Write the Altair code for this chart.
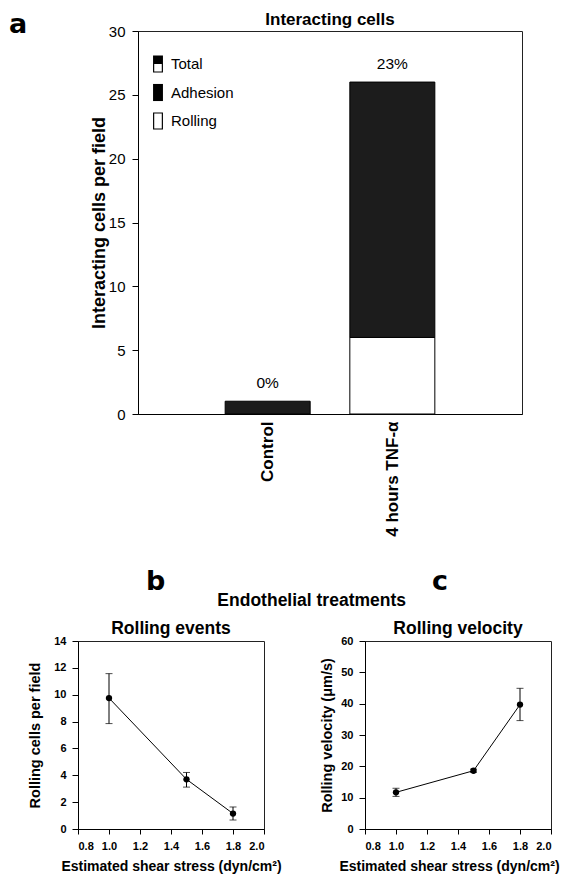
import altair as alt
import pandas as pd

FONT = "Liberation Sans"
LETTER_FONT = "DejaVu Sans"

# ---------------- data ----------------
# panel a
categories = ["Control", "4 hours TNF-\u03b1"]
cat_pos = [1, 2]
adhesion = [1, 20]
rolling = [0, 6]
pct_labels = ["0%", "23%"]
legend_items = ["Total", "Adhesion", "Rolling"]
a_y_ticks = [0, 5, 10, 15, 20, 25, 30]

# panels b and c
shear = [1.0, 1.5, 1.8]
roll_events = [9.75, 3.7, 1.15]
roll_events_lo = [7.85, 3.12, 0.67]
roll_events_hi = [11.57, 4.21, 1.64]
roll_vel = [11.7, 18.6, 39.7]
roll_vel_lo = [10.4, 18.1, 34.6]
roll_vel_hi = [13.0, 19.1, 44.9]
bc_x_ticks = [0.8, 1.0, 1.2, 1.4, 1.6, 1.8, 2.0]
b_y_ticks = [0, 2, 4, 6, 8, 10, 12, 14]
c_y_ticks = [0, 10, 20, 30, 40, 50, 60]

panel_letters = ["a", "b", "c"]
group_title = "Endothelial treatments"

# ---------------- panel a ----------------
rows = []
for p, c, ad, ro in zip(cat_pos, categories, adhesion, rolling):
    if ro > 0:
        rows.append({"pos": p, "cat": c, "seg": "Rolling", "y0": 0, "y1": ro})
    rows.append({"pos": p, "cat": c, "seg": "Adhesion", "y0": ro, "y1": ro + ad})
bar_df = pd.DataFrame(rows)
bar_df["kind"] = bar_df["seg"]
tot_df = pd.DataFrame({"pos": cat_pos,
                       "total": [a + r for a, r in zip(adhesion, rolling)],
                       "label": pct_labels})

label_expr = " ".join(f"datum.value == {p} ? '{c}' :" for p, c in zip(cat_pos, categories)) + " ''"

x_scale_a = alt.Scale(domain=[0, 3], nice=False, zero=False)
y_scale_a = alt.Scale(domain=[0, 30], nice=False)
x_axis_a = alt.Axis(values=cat_pos, labelExpr=label_expr, labelAngle=270,
                    ticks=False, grid=False, title=None, labelFontSize=17,
                    labelFontWeight="bold", labelPadding=7, labelColor="black",
                    domainColor="black", labelOverlap=False)
y_axis_a = alt.Axis(values=a_y_ticks, title="Interacting cells per field",
                    titleFontSize=18, titleFontWeight="bold", titlePadding=7,
                    minExtent=23, maxExtent=23,
                    labelFontSize=15, labelPadding=7, tickSize=6, grid=False,
                    domainColor="black", tickColor="black", labelColor="black",
                    titleColor="black", labelOverlap=False)

def xa(field):
    return alt.X(field, scale=x_scale_a, axis=x_axis_a)

def ya(field):
    return alt.Y(field, scale=y_scale_a, axis=y_axis_a)

# segments (legend comes from the shape layer below, so no legend here)
bars = alt.Chart(bar_df).mark_bar(size=85, stroke="black", strokeWidth=1).encode(
    x=xa("pos:Q"), y=ya("y0:Q"), y2="y1:Q",
    color=alt.Color("seg:N", scale=alt.Scale(domain=legend_items[1:],
                                             range=["#1c1c1c", "white"]),
                    legend=None))

# legend swatches: half-filled (Total), filled (Adhesion), open (Rolling)
paths = [
    "M-0.55,-0.95H0.55V0H-0.55Z M-0.55,0H0.55V0.95H-0.55Z M-0.42,0V0.82H0.42V0Z",
    "M-0.55,-0.95H0.55V0.95H-0.55Z",
    "M-0.55,-0.95H0.55V0.95H-0.55Z M-0.42,-0.82V0.82H0.42V-0.82Z",
]
legend_layer = alt.Chart(bar_df).mark_point(filled=True, color="black", opacity=0.001).encode(
    x=xa("pos:Q"), y=ya("y1:Q"),
    shape=alt.Shape("kind:N", scale=alt.Scale(domain=legend_items, range=paths),
                    legend=alt.Legend(title=None, orient="none", legendX=71, legendY=24,
                                      symbolSize=324, symbolStrokeWidth=0,
                                      symbolOpacity=1, symbolFillColor="black",
                                      labelFontSize=15, labelFont=FONT, labelColor="black",
                                      labelOffset=4, rowPadding=10.5, padding=0)))

pct = alt.Chart(tot_df).mark_text(dy=-13, fontSize=15.5, baseline="alphabetic",
                                  color="black").encode(
    x=xa("pos:Q"), y=ya("total:Q"), text="label:N")

letters_df = pd.DataFrame({"t": panel_letters})
letter_style = dict(align="left", baseline="alphabetic", fontSize=27,
                    fontWeight="bold", color="black", font=LETTER_FONT)
letter_b = alt.Chart(letters_df.iloc[[1]]).mark_text(**letter_style).encode(
    x=alt.value(8), y=alt.value(559), text="t:N")
letter_c = alt.Chart(letters_df.iloc[[2]]).mark_text(**letter_style).encode(
    x=alt.value(294), y=alt.value(559), text="t:N")
et = alt.Chart(pd.DataFrame({"t": [group_title]})).mark_text(
    align="center", baseline="alphabetic", fontSize=17.5, fontWeight="bold",
    color="black").encode(x=alt.value(173.7), y=alt.value(575), text="t:N")

top = alt.layer(bars, legend_layer, pct, letter_b, letter_c, et).properties(
    width=384, height=383,
    title=alt.Title("Interacting cells", fontSize=17, fontWeight="bold", offset=-5,
                    color="black"))

# spacer holding the panel letter "a" (sets the left offset of panel a)
spacer = alt.Chart(letters_df.iloc[[0]]).mark_text(**letter_style).encode(
    x=alt.value(-69), y=alt.value(2), text="t:N").properties(
    width=1, height=383, view=alt.ViewBackground(stroke="transparent"))

top_row = alt.hconcat(spacer, top, spacing=9)

# ---------------- panels b, c ----------------
def panel(yv, lo, hi, yticks, ytitle, ttl, title_x, ytp):
    df = pd.DataFrame({"x": shear, "y": yv, "lo": lo, "hi": hi})
    base = alt.Chart(df)
    xaxis = dict(values=bc_x_ticks, format=".1f",
                 title="Estimated shear stress (dyn/cm\u00b2)",
                 titleFontSize=14, titleFontWeight="bold", titlePadding=8,
                 labelFontSize=11, labelFontWeight="bold", labelPadding=6,
                 tickSize=5, grid=False, domainColor="black", labelOverlap=False,
                 tickColor="black", labelColor="black", titleColor="black")
    if title_x is not None:
        xaxis["titleX"] = title_x
    x_axis = alt.Axis(**xaxis)
    x_scale = alt.Scale(domain=[bc_x_ticks[0], bc_x_ticks[-1]], nice=False, zero=False)
    y_axis = alt.Axis(values=yticks, title=ytitle, titleFontSize=14.5,
                      titleFontWeight="bold", titlePadding=ytp, labelFontSize=11,
                      labelFontWeight="bold", labelPadding=6, tickSize=6,
                      grid=False, domainColor="black", tickColor="black",
                      labelColor="black", titleColor="black", labelOverlap=False)
    y_scale = alt.Scale(domain=[yticks[0], yticks[-1]], nice=False)

    def X():
        return alt.X("x:Q", scale=x_scale, axis=x_axis)

    def Y(f):
        return alt.Y(f, scale=y_scale, axis=y_axis)

    line = base.mark_line(color="black", strokeWidth=1).encode(x=X(), y=Y("y:Q"))
    err = base.mark_rule(color="black", strokeWidth=1).encode(x=X(), y=Y("lo:Q"), y2="hi:Q")
    cap_hi = base.mark_tick(orient="horizontal", size=7, thickness=1, color="black").encode(
        x=X(), y=Y("hi:Q"))
    cap_lo = base.mark_tick(orient="horizontal", size=7, thickness=1, color="black").encode(
        x=X(), y=Y("lo:Q"))
    pts = base.mark_point(filled=True, size=40, color="black", opacity=1).encode(
        x=X(), y=Y("y:Q"))
    return alt.layer(line, err, cap_hi, cap_lo, pts).properties(
        width=186, height=188,
        title=alt.Title(ttl, fontSize=17.5, fontWeight="bold", offset=-2, color="black"))

pb = panel(roll_events, roll_events_lo, roll_events_hi, b_y_ticks,
           "Rolling cells per field", "Rolling events", None, 11)
pc = panel(roll_vel, roll_vel_lo, roll_vel_hi, c_y_ticks,
           "Rolling velocity (\u03bcm/s)", "Rolling velocity", 84, 6)

bottom = alt.hconcat(pb, pc, spacing=37)

chart = alt.vconcat(top_row, bottom, spacing=9,
                    padding={"left": 0, "top": 2, "right": 0, "bottom": 0}).configure(
    font=FONT).configure_view(stroke="#222", strokeWidth=1).configure_title(
    font=FONT, anchor="middle")

chart.save("out.html", embed_options={"renderer": "svg", "actions": False})
